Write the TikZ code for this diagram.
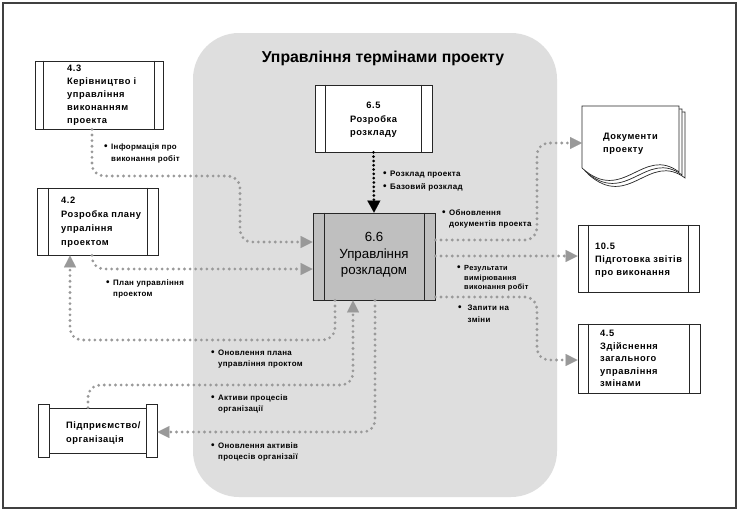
\documentclass[tikz,border=0pt]{standalone}
\usepackage{fontspec}
\setmainfont{Liberation Sans}
\newfontfamily\bxfont{Liberation Sans}[LetterSpace=6.0]
\newfontfamily\lbfont{Liberation Sans}[LetterSpace=4.0]
\usetikzlibrary{arrows.meta}
\newcommand\bxlines[1]{\begin{tabular}[t]{@{}l@{}}#1\end{tabular}}
\newcommand\bxclines[1]{\begin{tabular}[t]{@{}c@{}}#1\end{tabular}}
\newcommand\lablines[1]{\begin{tabular}[t]{@{}l@{\hspace{3.5pt}}l@{}}#1\end{tabular}}
\newcommand\bul{\raisebox{-0.4pt}{\fontsize{10}{10}\selectfont•}}
\newcommand\boxstrips[2]{%
  \draw[stripline] ([xshift=#2]#1.north west) -- ([xshift=#2]#1.south west);
  \draw[stripline] ([xshift=-#2]#1.north east) -- ([xshift=-#2]#1.south east);}
\begin{document}
\begin{tikzpicture}[x=1pt,y=-1pt,
  frameline/.style={draw=black!75,line width=1.8pt},
  regionbox/.style={fill=black!13,draw=none,rounded corners=46pt,inner sep=0pt},
  pbox/.style={draw=black!85,line width=0.8pt,fill=white,inner sep=0pt},
  stripline/.style={draw=black!85,line width=0.8pt},
  boxtext/.style={font=\bxfont\bfseries\fontsize{9.3}{13}\selectfont,anchor=base west,inner sep=0pt},
  labtext/.style={font=\lbfont\bfseries\fontsize{7.9}{11}\selectfont,anchor=base west,inner sep=0pt},
  flow/.style={draw=black!40,line width=3.1pt,line cap=round,dash pattern=on 0pt off 5.6pt,rounded corners=12pt,
    -{Triangle[length=12pt,width=12pt,line width=0.1pt]}},
  blackflow/.style={draw=black,line width=3pt,line cap=round,dash pattern=on 0pt off 4.3pt,
    -{Triangle[length=12pt,width=13pt,line width=0.1pt]}},
  pagestyle/.style={draw=black!85,line width=0.7pt,fill=white}
]
\useasboundingbox (0,0) rectangle (739,522);
\fill[white] (0,0) rectangle (739,522);
\draw[frameline] (3,3) rectangle (736,508);

% grey region
\node[regionbox,minimum width=364pt,minimum height=464pt] (region) at (375,265) {};
\node[font=\bfseries\fontsize{15.8}{18}\selectfont,inner sep=0pt] (title) at (383,58) {Управління термінами проекту};

% process boxes
\node[pbox,minimum width=128pt,minimum height=68pt] (b43) at (99,95) {};
\boxstrips{b43}{9pt}
\node[boxtext] (t43) at (67,71.5) {\bxlines{4.3\\Керівництво і\\управління\\виконанням\\проекта}};

\node[pbox,minimum width=121pt,minimum height=67pt] (b42) at (97.5,221.5) {};
\boxstrips{b42}{11.5pt}
\node[boxtext,font=\bxfont\bfseries\fontsize{9.3}{14}\selectfont] (t42) at (61,203) {\bxlines{4.2\\Розробка плану\\упраління\\проектом}};

\node[pbox,minimum width=117pt,minimum height=67pt] (b65) at (373.5,118.5) {};
\boxstrips{b65}{11pt}
\node[boxtext,anchor=base,font=\bxfont\bfseries\fontsize{9.3}{13.5}\selectfont] (t65) at (373.5,108.5) {\bxclines{6.5\\Розробка\\розкладу}};

\node[pbox,fill=black!25,minimum width=122pt,minimum height=87pt] (b66) at (374,256.5) {};
\boxstrips{b66}{11.5pt}
\node[anchor=base,inner sep=0pt,font=\fontsize{13.3}{16.5}\selectfont] (t66) at (374,241.5) {\bxclines{6.6\\Управління\\розкладом}};

\node[pbox,minimum width=121pt,minimum height=67pt] (b105) at (638.5,258.5) {};
\boxstrips{b105}{11pt}
\node[boxtext] (t105) at (595,249.5) {\bxlines{10.5\\Підготовка звітів\\про виконання}};

\node[pbox,minimum width=122pt,minimum height=69pt] (b45) at (639,358.5) {};
\boxstrips{b45}{11pt}
\node[boxtext,font=\bxfont\bfseries\fontsize{9.3}{12.5}\selectfont] (t45) at (600,336.5) {\bxlines{4.5\\Здійснення\\загального\\управління\\змінами}};

% enterprise scroll
\node[pbox,minimum width=97pt,minimum height=45pt] (ent) at (97.5,430.5) {};
\node[pbox,minimum width=11pt,minimum height=53pt] (entl) at (43.5,430.5) {};
\node[pbox,minimum width=11pt,minimum height=53pt] (entr) at (151.5,430.5) {};
\node[boxtext,font=\bxfont\bfseries\fontsize{9.3}{14}\selectfont] (tent) at (66,428) {\bxlines{Підприємство/\\організація}};

% documents
\draw[pagestyle] (588,112) -- (685,112) -- (685,178) .. controls (649,151) and (629,211) .. (588,174) -- cycle;
\draw[pagestyle] (585,109) -- (682,109) -- (682,175) .. controls (646,148) and (626,208) .. (585,171) -- cycle;
\draw[pagestyle] (582,106) -- (679,106) -- (679,172) .. controls (643,145) and (623,205) .. (582,168) -- cycle;
\coordinate (docin) at (582,143);
\node[boxtext] (tdoc) at (603,139.5) {\bxlines{Документи\\проекту}};

% connectors
\draw[flow] (b43.south -| 92,0) -- (92,176) -- (240,176) -- (240,242) -- (b66.west |- 0,242);
\draw[flow] (b42.south -| 92,0) -- (92,269) -- (b66.west |- 0,269);
\draw[flow] (b66.south -| 335,0) -- (335,340) -- (70,340) -- (b42.south -| 70,0);
\draw[flow] (ent.north -| 88,0) -- (88,385) -- (353,385) -- (b66.south -| 353,0);
\draw[flow] (b66.south -| 375,0) -- (375,432) -- (entr.east |- 0,432);
\draw[flow] (b66.east |- 0,240) -- (537,240) -- (537,143) -- (docin);
\draw[flow] (b66.east |- 0,256) -- (b105.west |- 0,256);
\draw[flow] (b66.east |- 0,297) -- (537,297) -- (537,360) -- (b45.west |- 0,360);
\draw[blackflow] (b65.south) -- (b66.north);

% labels
\node[labtext,font=\lbfont\bfseries\fontsize{7.9}{11.5}\selectfont] (l1) at (104,149.5) {\lablines{\bul&Інформація про\\&виконання робіт}};
\node[labtext,font=\lbfont\bfseries\fontsize{7.9}{10.5}\selectfont] (l2) at (106,285.5) {\lablines{\bul&План управління\\&проектом}};
\node[labtext] (l3) at (211,355.5) {\lablines{\bul&Оновлення плана\\&управління проктом}};
\node[labtext] (l4) at (211,400.5) {\lablines{\bul&Активи процесів\\&організації}};
\node[labtext] (l5) at (211,448.5) {\lablines{\bul&Оновлення активів\\&процесів організаії}};
\node[labtext,font=\lbfont\bfseries\fontsize{7.9}{10.5}\selectfont] (l6) at (442,215.5) {\lablines{\bul&Обновлення\\&документів проекта}};
\node[labtext,font=\lbfont\bfseries\fontsize{7.4}{9.5}\selectfont] (l7) at (457,270.5) {\lablines{\bul&Результати\\&вимірювання\\&виконання робіт}};
\node[labtext,font=\lbfont\bfseries\fontsize{7.9}{12}\selectfont] (l8) at (458,310.5) {\begin{tabular}[t]{@{}l@{\hspace{6pt}}l@{}}\bul&Запити на\\&зміни\end{tabular}};
\node[labtext,font=\lbfont\bfseries\fontsize{8}{13}\selectfont] (l9) at (383,176.5) {\lablines{\bul&Розклад проекта\\\bul&Базовий розклад}};
\end{tikzpicture}
\end{document}
